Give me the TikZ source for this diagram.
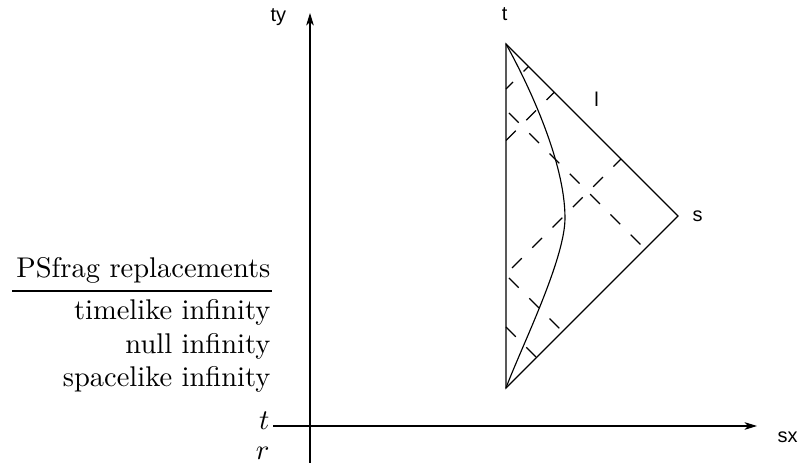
\documentclass[tikz,border=0pt]{standalone}
\usepackage{fontspec}
\newfontfamily\labfont{Liberation Sans}
\usetikzlibrary{arrows.meta}
\begin{document}
\begin{tikzpicture}[x=0.3509pt,y=-0.3509pt,
  thinline/.style={line width=0.4pt, draw=black},
  nullray/.style={thinline, dash pattern=on 4.84pt off 5.23pt},
  axis/.style={thinline, -{Stealth[length=4.4pt,width=2.7pt,inset=1.3pt]}},
  lab/.style={font=\labfont\fontsize{7}{8}\selectfont, inner sep=0pt},
  rep/.style={anchor=base east, inner sep=0pt, font=\fontsize{10}{12}\selectfont}
]
\useasboundingbox (0,0) rectangle (798,468);

% axes
\coordinate (vS) at (310,463);
\coordinate (vE) at (310,13);
\coordinate (hS) at (273,426);
\coordinate (hE) at (757,426);
\draw[axis] (vS) -- (vE);
\draw[axis] (hS) -- (hE);
\node[lab, anchor=base west] (ty) at (270,22) {ty};
\node[lab, anchor=base west] (sx) at (777,443) {sx};

% triangle
\coordinate (T) at (506,44);
\coordinate (B) at (506,388);
\coordinate (S) at (678,216);
\coordinate (M) at (565,218);
\draw[thinline] (T) -- (S) -- (B) -- cycle;
\draw[thinline] (T) .. controls (526,80) and (565,160) .. (M)
                    .. controls (565,260) and (520,350) .. (B);

% null rays
\coordinate (a1) at (506,89);    \coordinate (b1) at (528.5,66.5);
\coordinate (a2) at (506,140.5); \coordinate (b2) at (554.25,92.25);
\coordinate (a3) at (506,110);   \coordinate (b3) at (645,249);
\coordinate (a4) at (506,274);   \coordinate (b4) at (621,159);
\coordinate (a5) at (506,275);   \coordinate (b5) at (562.5,331.5);
\coordinate (a6) at (506,327);   \coordinate (b6) at (536.5,357.5);
\draw[nullray, dash phase=1.33pt] (a1) -- (b1);
\draw[nullray] (a2) -- (b2);
\draw[nullray, dash phase=8.6pt] (a3) -- (b3);
\draw[nullray, dash phase=7.09pt] (a4) -- (b4);
\draw[nullray, dash phase=8.6pt] (a5) -- (b5);
\draw[nullray] (a6) -- (b6);

% labels
\node[lab, anchor=base] (tlab) at (504.7,21) {t};
\node[lab, anchor=base] (llab) at (596.7,107) {l};
\node[lab, anchor=base west] (slab) at (692,222) {s};

% PSfrag replacements
\node[rep] (psf) at (271,278) {PSfrag replacements};
\coordinate (rl) at (12,291);
\coordinate (rr) at (272,291);
\draw[thinline] (rl) -- (rr);
\node[rep] (r1) at (271,320) {timelike infinity};
\node[rep] (r2) at (271,354) {null infinity};
\node[rep] (r3) at (271,387) {spacelike infinity};
\node[rep] (r4) at (270,430) {$t$};
\node[rep] (r5) at (270,460) {$r$};
\end{tikzpicture}
\end{document}
